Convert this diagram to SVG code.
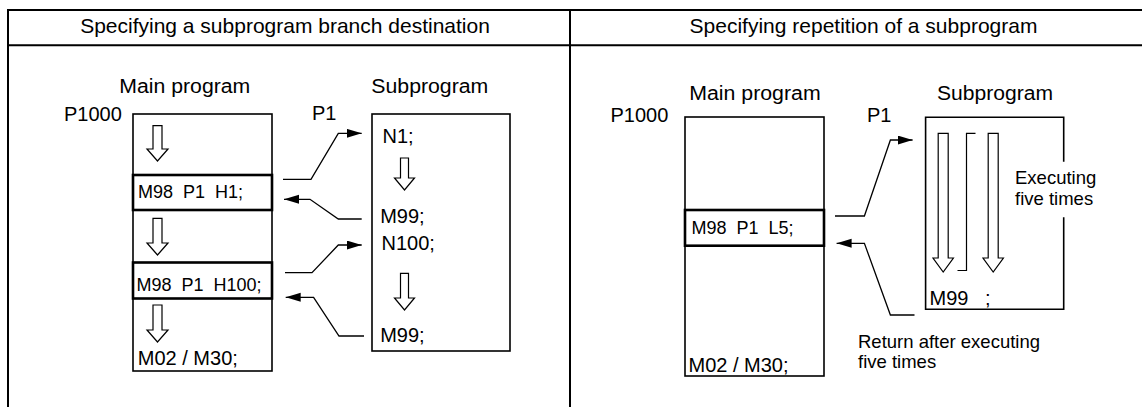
<svg xmlns="http://www.w3.org/2000/svg" width="1142" height="407" viewBox="0 0 1142 407">
<defs>
<style>
text{font-family:"Liberation Sans",Arial,sans-serif;fill:#000}
.hd{font-size:21px}
.lb{font-size:20px}
.pg{font-size:20px}
.cl{font-size:18px}
.nt{font-size:18.5px}
.tb{fill:none;stroke:#000;stroke-width:2}
.bx{fill:none;stroke:#000;stroke-width:1.6}
.cb{fill:none;stroke:#000;stroke-width:2.6}
.ba{fill:#fff;stroke:#000;stroke-width:1.2;stroke-linejoin:miter}
.ln{fill:none;stroke:#000;stroke-width:1.2}
.cn{fill:none;stroke:#000;stroke-width:1.3;marker-end:url(#ah)}
</style>
<marker id="ah" markerUnits="userSpaceOnUse" markerWidth="16" markerHeight="10" refX="15" refY="4.5" orient="auto"><path d="M0,0 L15,4.5 L0,9 z" fill="#000"/></marker>
</defs>
<rect width="1142" height="407" fill="#fff"/>
<g id="table">
<path class="tb" d="M1142,10 H8 V407 M8,45.3 H1142 M570,10 V407"/>
<text class="hd" x="285" y="32.5" text-anchor="middle">Specifying a subprogram branch destination</text>
<text class="hd" x="863.5" y="32.5" text-anchor="middle">Specifying repetition of a subprogram</text>
</g>
<g id="left-main">
<text class="lb" x="119.3" y="93" textLength="131" lengthAdjust="spacingAndGlyphs">Main program</text>
<text class="lb" x="64" y="121">P1000</text>
<rect class="bx" x="133" y="114" width="139" height="257"/>
<path class="ba" d="M153,125.7 H162 V149 H168 L157.5,161 L147,149 H153 Z"/>
<rect class="cb" x="133" y="175" width="139" height="35"/>
<text class="cl" x="138" y="198">M98&#160; P1&#160; H1;</text>
<path class="ba" d="M153,218.3 H162 V243 H168 L157.5,255 L147,243 H153 Z"/>
<rect class="cb" x="133" y="262.5" width="139" height="36"/>
<text class="cl" x="136.5" y="291">M98&#160; P1&#160; H100;</text>
<path class="ba" d="M153,305 H162 V330 H168 L157.5,342 L147,330 H153 Z"/>
<text class="pg" x="137.8" y="365">M02 / M30;</text>
</g>
<g id="left-sub">
<text class="lb" x="371.3" y="93" textLength="117" lengthAdjust="spacingAndGlyphs">Subprogram</text>
<text class="lb" x="312" y="120">P1</text>
<rect class="bx" x="372" y="114" width="138" height="237"/>
<text class="pg" x="382.5" y="143">N1;</text>
<path class="ba" d="M400.5,158 H408.5 V178 H414.5 L404.5,190 L394.5,178 H400.5 Z"/>
<text class="pg" x="380.2" y="223">M99;</text>
<text class="pg" x="381.5" y="250">N100;</text>
<path class="ba" d="M400.5,273.3 H408.5 V298 H414.5 L404.5,310 L394.5,298 H400.5 Z"/>
<text class="pg" x="380.2" y="342">M99;</text>
</g>
<g id="right-main">
<text class="lb" x="689.2" y="99.5" textLength="131.5" lengthAdjust="spacingAndGlyphs">Main program</text>
<text class="lb" x="610.5" y="121.7">P1000</text>
<rect class="bx" x="685" y="117" width="139" height="259"/>
<rect class="cb" x="685" y="210" width="139" height="35.7"/>
<text class="cl" x="691.5" y="233.5">M98&#160; P1&#160; L5;</text>
<text class="pg" x="688.5" y="372">M02 / M30;</text>
</g>
<g id="right-sub">
<text class="lb" x="937" y="99.5" textLength="116" lengthAdjust="spacingAndGlyphs">Subprogram</text>
<text class="lb" x="867" y="121.7">P1</text>
<path class="bx" d="M1063.7,161.7 V117.3 H925.6 V309.3 H1063.7 V217.3"/>
<path class="ba" d="M938.2,133.3 H948.2 V258 H953.4 L943.2,272 L933,258 H938.2 Z"/>
<path class="ln" d="M975.5,133.3 H966.5 V270.5 H957.5"/>
<path class="ba" d="M988.2,133.3 H998.2 V258 H1003.4 L993.2,272 L983,258 H988.2 Z"/>
<text class="pg" x="929.5" y="305">M99&#160;&#160;&#160;;</text>
<text class="nt" x="1015" y="183.5">Executing</text>
<text class="nt" x="1015" y="205">five times</text>
</g>
<g id="return-note">
<text class="nt" x="858" y="348">Return after executing</text>
<text class="nt" x="858" y="367.5">five times</text>
</g>
<g id="connectors">
<path class="cn" d="M283,179.3 H311 L338.3,133.3 H361.7"/>
<path class="cn" d="M361.7,219 H338.3 L310,199.3 H284"/>
<path class="cn" d="M285,272.7 H312 L338.3,245 H361.7"/>
<path class="cn" d="M364,336 H339 L313.6,297.3 H285.7"/>
<path class="cn" d="M835,216 H864.4 L890.4,140 H912.6"/>
<path class="cn" d="M914.5,315 H890.4 L864.4,243.3 H836.6"/>
</g>
</svg>
